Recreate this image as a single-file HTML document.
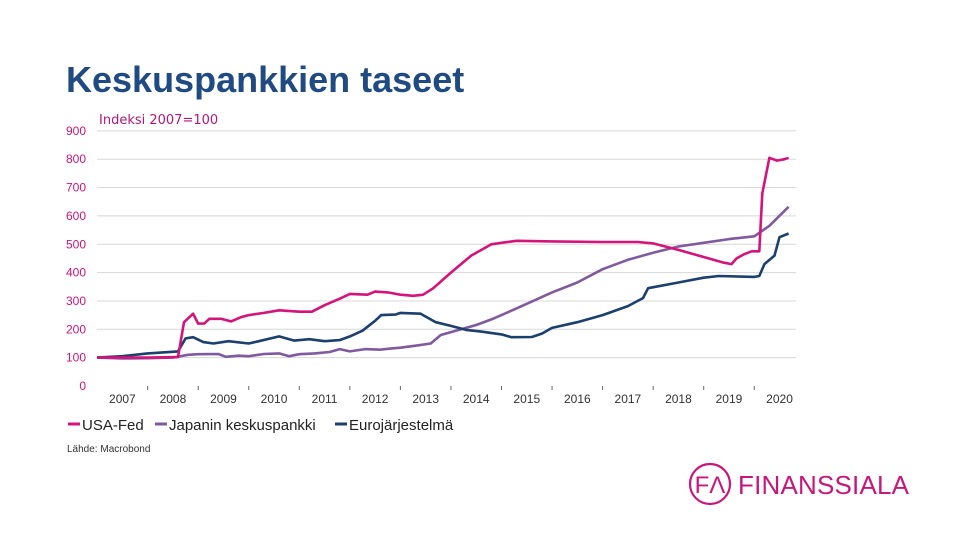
<!DOCTYPE html>
<html><head><meta charset="utf-8"><style>
body{margin:0;background:#fff;}
svg{display:block;font-family:"Liberation Sans",Arial,sans-serif;}
</style></head><body>
<svg id="chart" width="960" height="540" viewBox="0 0 960 540">
<text x="66" y="92" font-size="36" font-weight="bold" fill="#1f4a82">Keskuspankkien taseet</text>
<text x="99" y="124" font-size="13" fill="#b0187a" font-family="'DejaVu Sans',sans-serif">Indeksi 2007=100</text>
<g id="grid"></g>
<g id="yticks"></g>
<g id="xticks"></g>
<g id="lines"></g>
<g font-size="15" fill="#222">
 <g><line x1="68" y1="424" x2="80" y2="424" stroke="#d4147a" stroke-width="3"/><text x="82" y="430">USA-Fed</text></g>
 <g><line x1="155" y1="424" x2="167" y2="424" stroke="#7f5a9e" stroke-width="3"/><text x="169" y="430">Japanin keskuspankki</text></g>
 <g><line x1="335" y1="424" x2="347" y2="424" stroke="#1b3f6e" stroke-width="3"/><text x="349" y="430">Eurojärjestelmä</text></g>
</g>
<text x="67" y="452" font-size="10" fill="#333">Lähde: Macrobond</text>
<g>
 <circle cx="710" cy="484" r="20" fill="none" stroke="#c8177a" stroke-width="2.2"/>
 <text x="710" y="493" font-size="24" fill="#c8177a" text-anchor="middle" font-family="'Liberation Sans',sans-serif">FΛ</text>
 <text x="738" y="494" font-size="26" fill="#c8177a" textLength="171">FINANSSIALA</text>
</g>
</svg>
<script>
const yTicks=[0,100,200,300,400,500,600,700,800,900];
const years=[2007,2008,2009,2010,2011,2012,2013,2014,2015,2016,2017,2018,2019,2020];
const fedT=[2007,2008,2008.6,2008.72,2008.9,2009.0,2009.12,2009.22,2009.45,2009.65,2009.85,2010.0,2010.3,2010.6,2011.0,2011.25,2011.5,2011.8,2012.0,2012.35,2012.5,2012.75,2013.0,2013.25,2013.45,2013.65,2014.0,2014.4,2014.8,2015.0,2015.3,2016,2017,2017.7,2018.0,2018.5,2019.0,2019.4,2019.55,2019.65,2019.8,2019.95,2020.1,2020.16,2020.3,2020.45,2020.6,2020.68];
const fedV=[100,100,102,225,255,220,220,237,237,228,243,250,258,267,262,262,285,308,325,322,333,330,322,318,322,345,400,460,500,505,512,510,508,508,503,480,455,435,430,450,465,475,475,680,805,795,800,805];
const jpT=[2007,2007.5,2008,2008.5,2008.8,2009.0,2009.4,2009.55,2009.8,2010.0,2010.3,2010.6,2010.8,2011.0,2011.3,2011.6,2011.8,2012.0,2012.3,2012.6,2012.8,2013.0,2013.3,2013.6,2013.8,2014.2,2014.5,2014.8,2015.0,2015.5,2016.0,2016.5,2017.0,2017.5,2018.0,2018.5,2019.0,2019.5,2020.0,2020.3,2020.68];
const jpV=[100,97,98,100,110,112,113,103,107,105,113,115,105,112,115,120,130,122,130,128,132,135,142,150,180,200,215,235,250,290,330,365,412,445,470,492,505,518,528,565,632];
const euT=[2007,2007.5,2008,2008.6,2008.75,2008.9,2009.1,2009.3,2009.6,2010.0,2010.2,2010.6,2010.9,2011.2,2011.5,2011.8,2012.0,2012.25,2012.5,2012.62,2012.9,2013.0,2013.4,2013.7,2014.0,2014.3,2014.6,2015.0,2015.2,2015.6,2015.8,2016.0,2016.5,2017.0,2017.5,2017.8,2017.9,2018.5,2019.0,2019.3,2020.0,2020.1,2020.2,2020.4,2020.5,2020.68];
const euV=[100,105,115,122,168,172,155,150,158,150,158,175,160,165,158,162,175,195,230,250,252,258,255,225,212,198,192,182,172,173,185,205,225,250,282,310,345,365,382,388,385,388,430,460,525,538];
const NS='http://www.w3.org/2000/svg';
const X0=97.1,PX=50.55,Y0=386,PY=0.2835;
function xs(t){return X0+(t-2007)*PX;}
function ys(v){return Y0-v*PY;}
const grid=document.getElementById('grid'),yt=document.getElementById('yticks'),xt=document.getElementById('xticks'),lines=document.getElementById('lines');
yTicks.forEach(v=>{
 const l=document.createElementNS(NS,'line');
 
 
 l.setAttribute('x1',97);l.setAttribute('x2',796);l.setAttribute('y1',ys(v));l.setAttribute('y2',ys(v));
 l.setAttribute('stroke',v===0?'#ffffff':'#d8d8d8');l.setAttribute('stroke-width',1);
 grid.appendChild(l);
 const t=document.createElementNS(NS,'text');
 
 
 t.setAttribute('x',86);t.setAttribute('y',ys(v)+4);t.setAttribute('text-anchor','end');
 t.setAttribute('font-size',12);t.setAttribute('fill','#c8177a');t.textContent=v;
 yt.appendChild(t);
});
years.forEach(y=>{
 const tk=document.createElementNS(NS,'line');
 
 
 tk.setAttribute('x1',xs(y));tk.setAttribute('x2',xs(y));tk.setAttribute('y1',386);tk.setAttribute('y2',390);
 tk.setAttribute('stroke','#666');
 if(y>2007)xt.appendChild(tk);
 const t=document.createElementNS(NS,'text');
 
 
 t.setAttribute('x',xs(y+0.5));t.setAttribute('y',403);t.setAttribute('text-anchor','middle');
 t.setAttribute('font-size',12);t.setAttribute('fill','#333');t.textContent=y;
 xt.appendChild(t);
});
function draw(T,V,color,name){
 const p=document.createElementNS(NS,'polyline');
 
 
 p.setAttribute('points',T.map((t,i)=>xs(t).toFixed(1)+','+ys(V[i]).toFixed(1)).join(' '));
 p.setAttribute('fill','none');p.setAttribute('stroke',color);p.setAttribute('stroke-width',2.6);p.setAttribute('stroke-linejoin','round');
 lines.appendChild(p);
}
draw(jpT,jpV,'#7f5a9e','line-japan');
draw(euT,euV,'#1b3f6e','line-euro');
draw(fedT,fedV,'#d4147a','line-usa-fed');
</script>
</body></html>
